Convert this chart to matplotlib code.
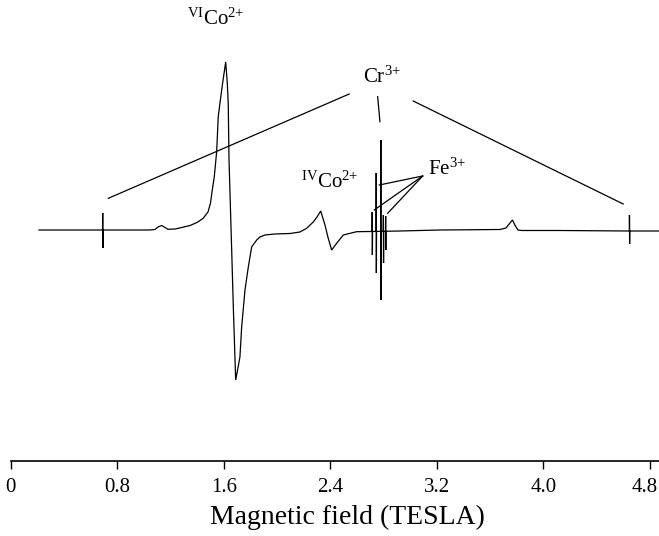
import numpy as np
import matplotlib
matplotlib.use("Agg")
import matplotlib.pyplot as plt
import matplotlib.transforms as mtransforms

plt.rcParams['font.family'] = ['Liberation Serif', 'DejaVu Serif']
plt.rcParams['mathtext.fontset'] = 'custom'
plt.rcParams['mathtext.rm'] = 'Liberation Serif'
plt.rcParams['mathtext.it'] = 'Liberation Serif:italic'
plt.rcParams['mathtext.bf'] = 'Liberation Serif:bold'

# ---- data (field in tesla, intensity in arbitrary units) ----
base_field = [0.211, 0.688, 1.045, 1.083, 1.105, 1.133, 1.158, 1.180, 1.233, 1.285,
              1.346, 1.398, 1.443, 1.481, 1.500, 1.511, 1.528, 1.546, 1.558, 1.571,
              1.591, 1.614, 1.626, 1.633, 1.639, 1.659, 1.672, 1.689, 1.706, 1.721,
              1.734, 1.759, 1.784, 1.809, 1.847, 1.871, 1.909, 1.984, 2.097, 2.172,
              2.222, 2.272, 2.300, 2.328, 2.360, 2.382, 2.410, 2.448, 2.497, 2.598,
              2.698, 2.923, 3.224, 3.675, 3.720, 3.750, 3.769, 3.787, 3.810, 3.840,
              4.125, 4.648, 4.869]
base_int = [0, 0, 0, 0.5, 3, 4.5, 2.5, 0.7, 1, 2.5,
            4.5, 7.5, 11.5, 18, 27, 38, 53, 78, 113, 127,
            147, 168, 147, 127, 70, -20, -80, -150, -138, -127,
            -97, -60, -37, -17, -10, -7, -5, -4, -3.5, -2,
            1.7, 8, 13, 19, 5, -7, -20, -13.3, -5, -1.7,
            -1.5, -1, 0, 0.5, 2, 7, 10, 5, 0, -0.5,
            -0.5, -1, -1]

# sharp lines (Cr3+ and Fe3+)
line_field = [0.690, 2.715, 2.745, 2.780, 2.799, 2.816, 4.648]
line_top = [17, 18, 57, 90, 15, 14, 15]
line_bottom = [-18, -25, -43, -70, -33, -20, -14]

xticks = [0, 0.8, 1.6, 2.4, 3.2, 4.0, 4.8]
xtick_labels = ["0", "0.8", "1.6", "2.4", "3.2", "4.0", "4.8"]

# ---- build the trace ----
bf = np.array(base_field)
bi = np.array(base_int, dtype=float)
fx = list(bf)
fy = list(bi)
d = 0.0012
for f, t, b in zip(line_field, line_top, line_bottom):
    b0 = np.interp(f, bf, bi)
    fx += [f - d, f, f + d, f + 2 * d]
    fy += [b0, t, b, b0]
order = np.argsort(fx, kind='stable')
fx = np.array(fx)[order]
fy = np.array(fy)[order]

W, H = 659, 536
fig = plt.figure(figsize=(W / 100, H / 100), dpi=100)
ax = fig.add_axes([10.9 / W, (H - 461) / H, (W - 10.9) / W, 461 / H])
ax.plot(fx, fy, color='black', lw=0.9, solid_joinstyle='miter')

ax.set_xlim(0, 4.87)
ax.set_ylim(-231, 230)
for s in ['top', 'right', 'left']:
    ax.spines[s].set_visible(False)
ax.spines['bottom'].set_linewidth(1.2)
ax.set_yticks([])
ax.set_xticks(xticks)
ax.set_xticklabels(xtick_labels)
ax.tick_params(axis='x', direction='out', length=6, width=1.0, labelsize=15, pad=6)
# keep the last tick label inside the figure
last = ax.get_xticklabels()[-1]
last.set_transform(last.get_transform() +
                   mtransforms.ScaledTranslation(-5 / 100, 0, fig.dpi_scale_trans))
ax.set_xlabel("Magnetic field (TESLA)", fontsize=20, labelpad=8)
ax.xaxis.set_label_coords(0.5186, -0.095)

# ---- labels ----
lab_fs = 15
ax.text(1.323, 205, r"$^{\mathrm{VI}}$Co$^{2{+}}$", fontsize=lab_fs, ha='left', va='baseline')
ax.text(2.645, 147, r"Cr$^{3{+}}$", fontsize=lab_fs, ha='left', va='baseline')
ax.text(2.180, 42, r"$^{\mathrm{IV}}$Co$^{2{+}}$", fontsize=lab_fs, ha='left', va='baseline')
ax.text(3.134, 55, r"Fe$^{3{+}}$", fontsize=lab_fs, ha='left', va='baseline')

# Cr3+ pointer lines
lk = dict(color='black', lw=0.9)
ax.plot([line_field[0] + 0.042, 2.542], [31.7, 136], **lk)
ax.plot([2.756, 2.773], [133.3, 108.3], **lk)
ax.plot([3.023, line_field[-1] - 0.047], [129, 26], **lk)

# Fe3+ pointer lines
fe_start = (3.094, 54)
for tx, ty in [(2.768, 45), (line_field[1] + 0.015, 20), (line_field[5] + 0.015, 16.7)]:
    ax.plot([fe_start[0], tx], [fe_start[1], ty], **lk)

fig.savefig("out.png", dpi=100)
